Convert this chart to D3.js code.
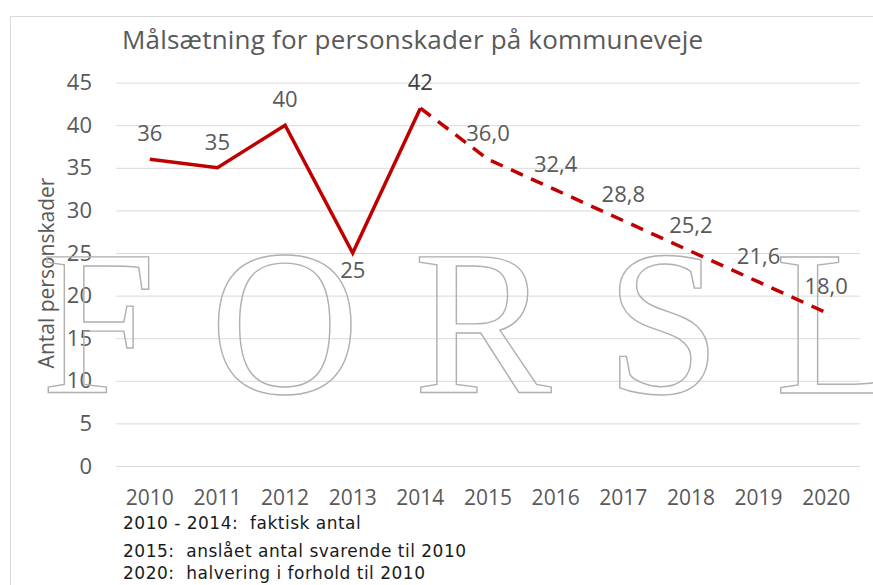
<!DOCTYPE html>
<html lang="da">
<head>
  <meta charset="UTF-8" />
  <title>Målsætning for personskader på kommuneveje</title>
  <script src="https://d3js.org/d3.v7.min.js"></script>
  <style>
    html, body { margin: 0; padding: 0; background: #fff; }
    svg { display: block; }
    text { font-family: "Open Sans", sans-serif; fill: #595959; }
    .note { font-family: "DejaVu Sans", sans-serif; fill: #1a1a1a; }
    .mark { font-family: "Liberation Serif", serif; fill: none; stroke: #b0b0b0; stroke-width: 1.4; }
  </style>
</head>
<body>
  <svg id="chart" width="873" height="585"></svg>

  <script>
    // data
    const years = ["2010", "2011", "2012", "2013", "2014", "2015", "2016", "2017", "2018", "2019", "2020"];
    const actualYears = ["2010", "2011", "2012", "2013", "2014"];
    const actualValues = [36, 35, 40, 25, 42];
    const targetYears = ["2014", "2015", "2016", "2017", "2018", "2019", "2020"];
    const targetValues = [42, 36.0, 32.4, 28.8, 25.2, 21.6, 18.0];
    const yTicks = [0, 5, 10, 15, 20, 25, 30, 35, 40, 45];
    const notes = [
      "2010 - 2014:  faktisk antal",
      "2015:  anslået antal svarende til 2010",
      "2020:  halvering i forhold til 2010"
    ];

    const svg = d3.select("#chart");
    const width = +svg.attr("width");
    const height = +svg.attr("height");

    const plot = { left: 116, right: 860, top: 82.6, bottom: 466 };
    const red = "#c00000";

    const x = d3.scaleBand().domain(years).range([plot.left, plot.right]);
    const xc = d => x(d) + x.bandwidth() / 2;
    const y = d3.scaleLinear().domain([0, 45]).range([plot.bottom, plot.top]);

    const comma = d3.formatLocale({ decimal: ",", thousands: ".", grouping: [3], currency: ["", " kr."] }).format(".1f");

    // frame
    svg.append("rect")
      .attr("x", 10.5).attr("y", 16.5)
      .attr("width", width).attr("height", height)
      .attr("fill", "none").attr("stroke", "#d9d9d9");

    svg.append("text")
      .attr("x", 122).attr("y", 49)
      .style("font-size", "26px")
      .style("letter-spacing", "0.2px")
      .text("Målsætning for personskader på kommuneveje");

    // gridlines + y ticks
    const yAxis = svg.append("g")
      .attr("transform", `translate(${plot.left},0)`)
      .call(d3.axisLeft(y).tickValues(yTicks).tickSize(-(plot.right - plot.left)).tickPadding(24));
    yAxis.select(".domain").remove();
    yAxis.selectAll(".tick line").attr("stroke", "#d9d9d9");
    yAxis.selectAll(".tick text")
      .attr("fill", "#595959")
      .style("font-family", "'Open Sans', sans-serif")
      .style("font-size", "22px");

    // x labels
    const xAxis = svg.append("g")
      .attr("transform", `translate(0,${plot.bottom})`)
      .call(d3.axisBottom(x).tickSize(0).tickPadding(24));
    xAxis.select(".domain").remove();
    xAxis.selectAll(".tick text")
      .attr("fill", "#595959")
      .style("font-family", "'Open Sans', sans-serif")
      .style("font-size", "21px");

    svg.append("text")
      .attr("transform", "translate(54,273) rotate(-90)")
      .attr("text-anchor", "middle")
      .style("font-size", "21px")
      .text("Antal personskader");

    // watermark
    svg.append("text")
      .attr("class", "mark")
      .attr("x", 41).attr("y", 393)
      .style("font-size", "207px")
      .style("letter-spacing", "54px")
      .text("FORSLAG");

    const line = d3.line().x(d => xc(d[0])).y(d => y(d[1]));

    svg.append("path")
      .datum(d3.zip(targetYears, targetValues))
      .attr("d", line)
      .attr("fill", "none")
      .attr("stroke", red)
      .attr("stroke-width", 3.5)
      .attr("stroke-dasharray", "13,9");

    svg.append("path")
      .datum(d3.zip(actualYears, actualValues))
      .attr("d", line)
      .attr("fill", "none")
      .attr("stroke", red)
      .attr("stroke-width", 3.5)
      .attr("stroke-linejoin", "miter");

    // data labels
    svg.append("g").selectAll("text")
      .data(d3.zip(actualYears, actualValues))
      .join("text")
      .attr("x", d => xc(d[0]))
      .attr("y", d => y(d[1]) + (d[1] === 25 ? 17 : -26))
      .attr("dy", "0.35em")
      .attr("text-anchor", "middle")
      .style("font-size", "22px")
      .style("fill", d => d[0] === "2014" ? "#404040" : "#595959")
      .text(d => d[1]);

    svg.append("g").selectAll("text")
      .data(d3.zip(targetYears, targetValues).slice(1))
      .join("text")
      .attr("x", d => xc(d[0]))
      .attr("y", d => y(d[1]) - 26)
      .attr("dy", "0.35em")
      .attr("text-anchor", "middle")
      .style("font-size", "22px")
      .text(d => comma(d[1]));

    // footnotes
    svg.append("g").selectAll("text")
      .data(notes)
      .join("text")
      .attr("class", "note")
      .attr("xml:space", "preserve")
      .style("white-space", "pre")
      .attr("x", 123)
      .attr("y", (d, i) => [529, 557, 579][i])
      .style("font-size", "17px")
      .style("letter-spacing", "0.5px")
      .text(d => d);
  </script>
</body>
</html>
